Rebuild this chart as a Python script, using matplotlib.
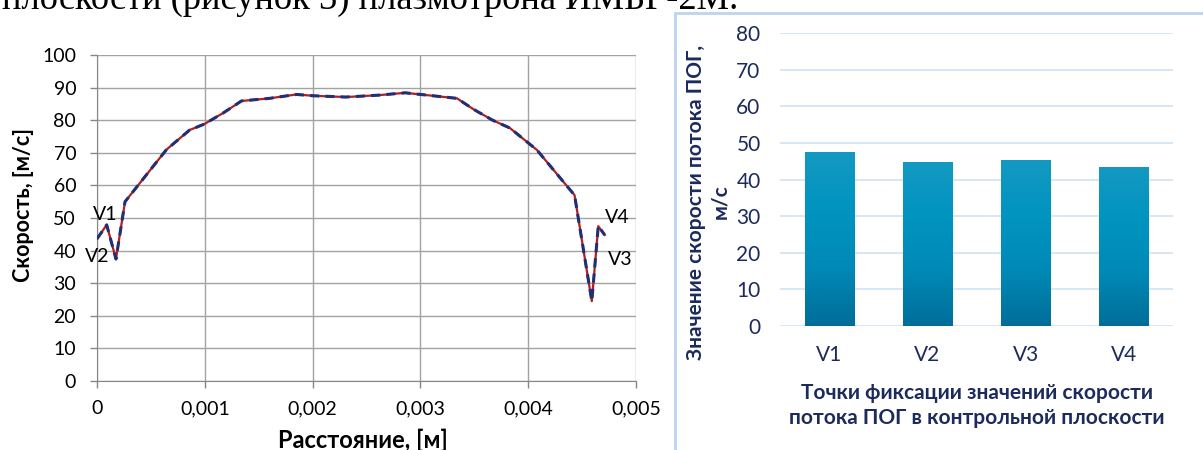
import numpy as np
import matplotlib
matplotlib.use("Agg")
import matplotlib.pyplot as plt
from matplotlib.patches import Rectangle
from matplotlib.colors import LinearSegmentedColormap
from matplotlib.ticker import FuncFormatter, MultipleLocator

# left chart: velocity profile across the control plane
dist = [0, 0.00009, 0.000176, 0.00026, 0.000645, 0.00086, 0.000995, 0.00117, 0.00134,
        0.0016, 0.00185, 0.002, 0.00231, 0.00262, 0.00286, 0.003, 0.00334, 0.00349,
        0.00367, 0.00383, 0.00408, 0.00443, 0.00459, 0.00465, 0.00471]
speed = [43.6, 47.9, 37.4, 55.0, 71.0, 77.0, 78.8, 82.2, 85.9,
         86.7, 87.9, 87.5, 87.1, 87.7, 88.4, 87.9, 86.7, 83.4,
         80.0, 77.6, 70.9, 57.0, 24.5, 47.5, 44.8]
point_labels = ["V1", "V2", "V3", "V4"]
label_x = [0.000074, 0.0, 0.00485, 0.00483]
label_y = [51.2, 38.3, 37.4, 50.3]

# right chart: velocity at the fixed points
bar_cats = ["V1", "V2", "V3", "V4"]
bar_vals = [47.3, 44.6, 45.3, 43.4]

W, H = 1203, 450
fig = plt.figure(figsize=(W / 100, H / 100), dpi=100)
plt.rcParams['font.family'] = ['Lato', 'DejaVu Sans']

# caption fragment from the page above the charts
fig.text(0.002, 1 - 9 / H, "плоскости (рисунок 3) плазмотрона ИМБГ-2М.",
         family="Liberation Serif", fontsize=26.3, va="baseline", ha="left", color="black")

# ---- left chart ----
ax = fig.add_axes([97 / W, (H - 381) / H, (636 - 97) / W, (381 - 55) / H])
ax.plot(dist, speed, color="#b01e1e", lw=1.6, zorder=3)
ax.plot(dist, speed, color="#1f2f7a", lw=2.2, ls=(0, (3, 2)), zorder=4)
for t, x, y in zip(point_labels, label_x, label_y):
    ax.text(x, y, t, fontsize=14, ha="center", va="center", color="black", zorder=5)

ax.set_xlim(0, 0.005)
ax.set_ylim(0, 100)
ax.xaxis.set_major_locator(MultipleLocator(0.001))
ax.yaxis.set_major_locator(MultipleLocator(10))
ax.xaxis.set_major_formatter(FuncFormatter(lambda v, p: "0" if abs(v) < 1e-12 else f"{v:.3f}".replace(".", ",")))
ax.grid(True, color="#a3a3a3", lw=1)
ax.set_axisbelow(True)
for s in ["top", "right"]:
    ax.spines[s].set_visible(False)
for s in ["left", "bottom"]:
    ax.spines[s].set_color("#868686")
ax.tick_params(axis="both", colors="#868686", labelcolor="black", labelsize=14, length=5, width=1)
ax.tick_params(axis="x", pad=9)
ax.tick_params(axis="y", pad=10)

fig.text(24 / W, 1 - 205 / H, "Скорость, [м/с]", rotation=90, fontsize=15.5, fontweight="bold",
         ha="center", va="center")
fig.text(363 / W, 1 - 429 / H, "Расстояние, [м]", fontsize=17, fontweight="bold",
         ha="center", va="top")

# ---- right chart ----
fig.patches.append(Rectangle((675 / W, -0.05), 0.5, (H - 13) / H + 0.05,
                             transform=fig.transFigure, fill=False,
                             edgecolor="#bcd4ee", lw=2))
navy = "#1c2a5c"
bx = fig.add_axes([780 / W, (H - 326) / H, (1173 - 780) / W, (326 - 33) / H])
xpos = np.arange(len(bar_cats))
cmap = LinearSegmentedColormap.from_list("bar", ["#006d99", "#0089b6", "#0094bf", "#1499c2"])
grad = np.linspace(0, 1, 256).reshape(-1, 1)
bars = bx.bar(xpos, bar_vals, width=0.5, color="none", zorder=3)
for b in bars:
    x0, w, h = b.get_x(), b.get_width(), b.get_height()
    bx.imshow(grad, cmap=cmap, origin="lower", aspect="auto",
              extent=(x0, x0 + w, 0, h), zorder=3)
bx.set_xlim(-0.5, len(bar_cats) - 0.5)
bx.set_ylim(0, 80)
bx.set_xticks(xpos)
bx.set_xticklabels(bar_cats)
bx.yaxis.set_major_locator(MultipleLocator(10))
bx.grid(True, axis="y", color="#d3e5f6", lw=1.3)
bx.set_axisbelow(True)
for s in bx.spines.values():
    s.set_visible(False)
bx.tick_params(axis="both", length=0, labelsize=15, labelcolor=navy)
bx.tick_params(axis="y", pad=14)
bx.tick_params(axis="x", pad=14)

fig.text(708 / W, 1 - 202 / H, "Значение скорости потока ПОГ,\nм/с", rotation=90,
         fontsize=15, fontweight="bold", color=navy, ha="center", va="center",
         multialignment="center", linespacing=1.3)
fig.text(977 / W, 1 - 405.5 / H, "Точки фиксации значений скорости\nпотока ПОГ в контрольной плоскости",
         fontsize=15, fontweight="bold", color=navy, ha="center", va="center",
         multialignment="center", linespacing=1.3)

fig.savefig("out.png", dpi=100)
